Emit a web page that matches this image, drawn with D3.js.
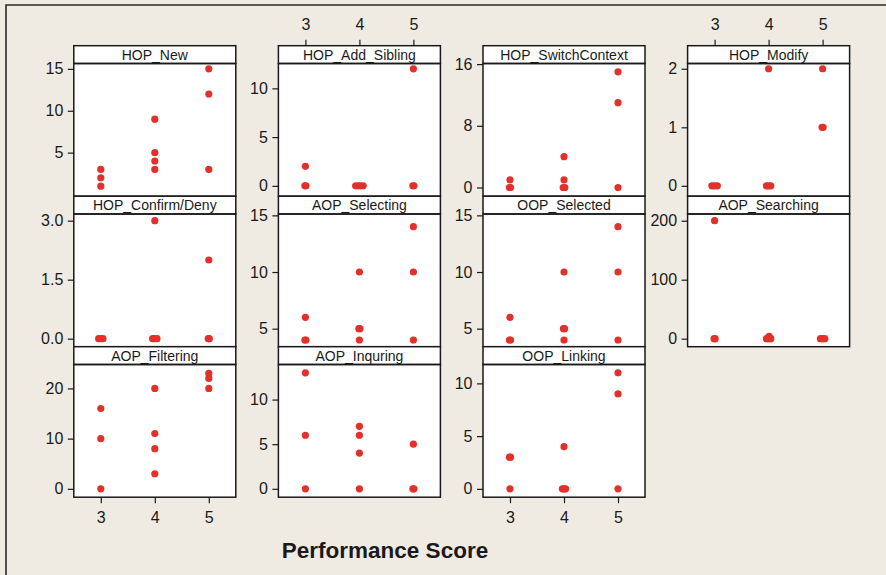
<!DOCTYPE html>
<html><head><meta charset="utf-8">
<script src="https://cdn.jsdelivr.net/npm/d3@7"></script>
<style>body{margin:0;background:#efebe2;} svg{display:block;}</style>
</head><body><svg id="c" width="886" height="575"></svg>
<script>
const panelNames = ["HOP_New","HOP_Add_Sibling","HOP_SwitchContext","HOP_Modify",
  "HOP_Confirm/Deny","AOP_Selecting","OOP_Selected","AOP_Searching",
  "AOP_Filtering","AOP_Inquring","OOP_Linking"];
const scoreTicks = [3,4,5];
const xLabel = "Performance Score";
// points: [performance score (with slight horizontal jitter), count]
const hopNew = [[3,1],[3,2],[3,3],[4,3],[4,4],[4,5],[4,9],[5,3],[5,12],[5,15]];
const hopAddSibling = [[2.99,0],[3.01,0],[3,2],[3.93,0],[3.98,0],[4.02,0],[4.07,0],[4.99,0],[5.01,0],[5,12]];
const hopSwitchContext = [[2.99,0],[3.01,0],[3,1],[3.985,0],[4.015,0],[4,1],[4,4],[5,0],[5,11],[5,15]];
const hopModify = [[2.95,0],[3,0],[3.05,0],[3.96,0],[4,0],[4.04,0],[4,2],[4.99,1],[5.01,1],[5,2]];
const hopConfirmDeny = [[2.96,0],[3,0],[3.04,0],[3.96,0],[4,0],[4.04,0],[4,3],[4.99,0],[5.01,0],[5,2]];
const aopSelecting = [[2.99,4],[3.01,4],[3,6],[4,4],[3.99,5],[4.01,5],[4,10],[5,4],[5,10],[5,14]];
const oopSelected = [[2.99,4],[3.01,4],[3,6],[4,4],[3.99,5],[4.01,5],[4,10],[5,4],[5,10],[5,14]];
const aopSearching = [[2.99,0],[3.01,0],[3,200],[3.96,0],[4,0],[4.04,0],[4.01,4],[4.96,0],[5,0],[5.04,0]];
const aopFiltering = [[3,0],[3,10],[3,16],[4,3],[4,8],[4,11],[4,20],[5,20],[5,22],[5,23]];
const aopInquring = [[3,0],[3,6],[3,13],[4,0],[4,4],[4,6],[4,7],[4.99,0],[5.01,0],[5,5]];
const oopLinking = [[3,0],[2.99,3],[3.01,3],[3.97,0],[4,0],[4.03,0],[4,4],[5,0],[5,9],[5,11]];
const panelData = [hopNew,hopAddSibling,hopSwitchContext,hopModify,hopConfirmDeny,
  aopSelecting,oopSelected,aopSearching,aopFiltering,aopInquring,oopLinking];
const yDomains = [[-0.2,15.64],[-1.06,12.55],[-1.13,16.08],[-0.177,2.09],[-0.204,3.17],
  [3.41,15.12],[3.41,15.12],[-13.6,211.4],[-1.67,24.77],[-0.94,13.93],[-0.79,11.79]];
const yTicks = [[5,10,15],[0,5,10],[0,8,16],[0,1,2],[0,1.5,3],[5,10,15],[5,10,15],
  [0,100,200],[0,10,20],[0,5,10],[0,5,10]];

const svg = d3.select("#c");
const FONT = "'Liberation Sans', Arial, Helvetica, sans-serif";
svg.append("rect").attr("x",0).attr("y",0).attr("width",886).attr("height",575).attr("fill","#efebe2");
svg.append("path").attr("d","M6,580V5H890").attr("fill","none").attr("stroke","#2a2a2a").attr("stroke-width",1.6);

const colX0 = 73.8, colStep = 204.6, pw = 162;
const rowY0 = 45.7, rowStep = 150.5, stripH = 17.8;

panelNames.forEach((name,i)=>{
  const r = Math.floor(i/4), c = i%4;
  const px = colX0 + c*colStep, top = rowY0 + r*rowStep, bottom = top + rowStep;
  const dTop = top + stripH;
  const x = d3.scaleLinear().domain([2.5,5.5]).range([px, px+pw]);
  const y = d3.scaleLinear().domain(yDomains[i]).range([bottom, dTop]);
  const g = svg.append("g");
  g.append("rect").attr("x",px).attr("y",dTop).attr("width",pw).attr("height",bottom-dTop).attr("fill","#fff");
  // strip
  g.append("rect").attr("x",px).attr("y",top).attr("width",pw).attr("height",stripH)
    .attr("fill","#fff").attr("stroke","#1a1a1a").attr("stroke-width",1.5);
  g.append("text").attr("x",px+pw/2).attr("y",top+stripH/2+5).attr("text-anchor","middle")
    .attr("font-family",FONT).attr("font-size","14px").attr("fill","#1a1a1a").text(name);
  // points
  g.selectAll("circle").data(panelData[i]).join("circle")
    .attr("cx",d=>x(d[0])).attr("cy",d=>y(d[1])).attr("r",3.6).attr("fill","#e2302a");
  g.append("rect").attr("x",px).attr("y",dTop).attr("width",pw).attr("height",bottom-dTop)
    .attr("fill","none").attr("stroke","#1a1a1a").attr("stroke-width",1.5);
  // y axis
  const fmt = i===4 ? d3.format(".1f") : d3.format("d");
  const ya = g.append("g").attr("transform",`translate(${px},0)`)
    .call(d3.axisLeft(y).tickValues(yTicks[i]).tickSize(6).tickPadding(4.5).tickFormat(fmt));
  ya.select(".domain").remove();
  ya.selectAll("line").attr("stroke","#1a1a1a").attr("stroke-width",1.2);
  ya.selectAll("text").attr("font-family",FONT).attr("font-size","16px").attr("fill","#1a1a1a");
  // x axes
  let xa = null;
  const xf = d3.format("d");
  if (i===1 || i===3) {
    xa = g.append("g").attr("transform",`translate(0,${top})`)
      .call(d3.axisTop(x).tickValues(scoreTicks).tickSize(6).tickPadding(10).tickFormat(xf));
  } else if (i===8 || i===10) {
    xa = g.append("g").attr("transform",`translate(0,${bottom})`)
      .call(d3.axisBottom(x).tickValues(scoreTicks).tickSize(6).tickPadding(8).tickFormat(xf));
  }
  if (xa) {
    xa.select(".domain").remove();
    xa.selectAll("line").attr("stroke","#1a1a1a").attr("stroke-width",1.2);
    xa.selectAll("text").attr("font-family",FONT).attr("font-size","16px").attr("fill","#1a1a1a");
  }
});

svg.append("text").attr("x",385).attr("y",558).attr("text-anchor","middle")
  .attr("font-family",FONT).attr("font-weight","bold").attr("font-size","22.5px")
  .attr("fill","#1a1a1a").text(xLabel);
</script></body></html>
